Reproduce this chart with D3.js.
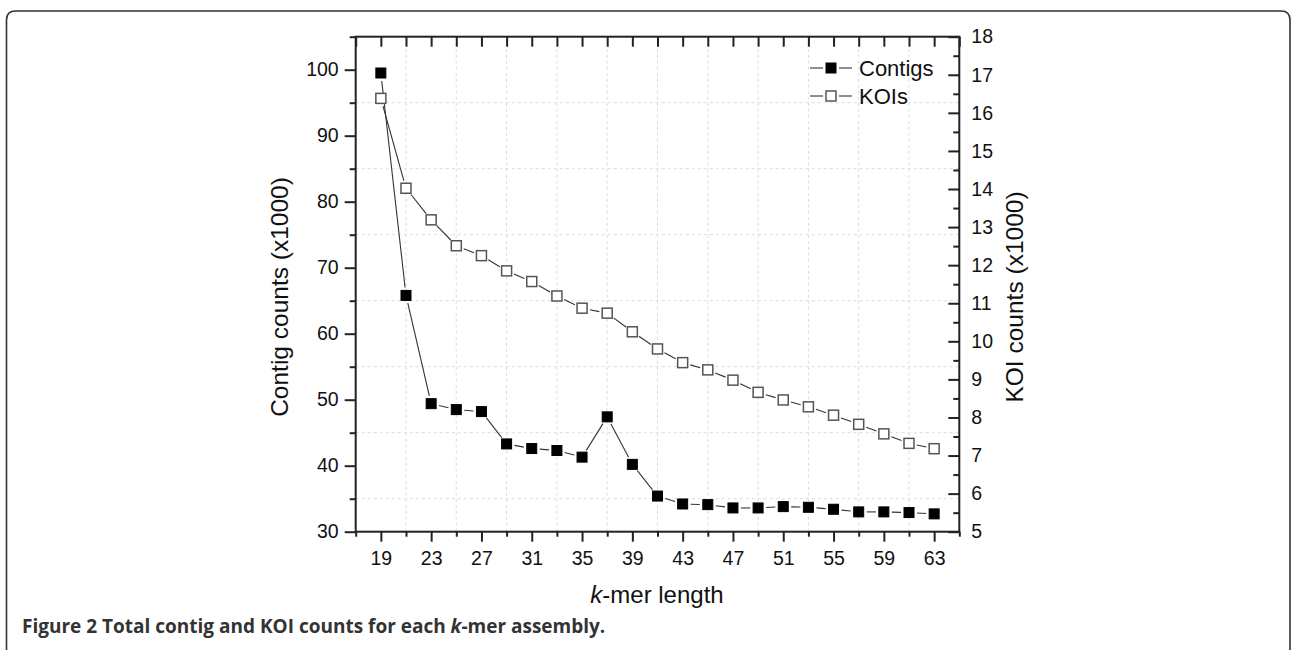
<!DOCTYPE html>
<html>
<head>
<meta charset="utf-8">
<script src="https://cdn.jsdelivr.net/npm/d3@7"></script>
<style>
  html, body { margin: 0; padding: 0; background: #fff; }
  svg { display: block; }
  .tk text { font-family: "Liberation Sans", Arial, sans-serif; font-size: 19.5px; fill: #111; }
  .tk line { stroke: #222; stroke-width: 2; }
  .tk path.domain { display: none; }
</style>
</head>
<body>
<svg id="chart" width="1292" height="650"></svg>
<script>
// ---- data ----
const kmerLengths = [19,21,23,25,27,29,31,33,35,37,39,41,43,45,47,49,51,53,55,57,59,61,63];
const contigCounts = [99.5,65.8,49.4,48.5,48.2,43.3,42.6,42.3,41.3,47.4,40.2,35.4,34.2,34.1,33.6,33.6,33.8,33.7,33.4,33.0,33.0,32.9,32.7];
const koiCounts = [16.38,14.02,13.19,12.51,12.25,11.85,11.57,11.19,10.87,10.74,10.25,9.80,9.44,9.25,8.98,8.66,8.46,8.28,8.06,7.82,7.57,7.32,7.18];
const xMajorTicks = [19,23,27,31,35,39,43,47,51,55,59,63];
const xMinorTicks = [17,21,25,29,33,37,41,45,49,53,57,61,65];
const leftMajorTicks = [30,40,50,60,70,80,90,100];
const leftMinorTicks = [35,45,55,65,75,85,95,105];
const rightMajorTicks = [5,6,7,8,9,10,11,12,13,14,15,16,17,18];
const rightMinorTicks = [5.5,6.5,7.5,8.5,9.5,10.5,11.5,12.5,13.5,14.5,15.5,16.5,17.5];
const seriesNames = ["Contigs", "KOIs"];

// ---- layout ----
const L = 355.7, R = 959.3, T = 36.7, B = 531.7;
const svg = d3.select("#chart");

const x = d3.scaleLinear().domain([17, 65]).range([L, R]);
const yL = d3.scaleLinear().domain([30, 105]).range([B, T]);
const yR = d3.scaleLinear().domain([5, 18]).range([B, T]);

// outer frame (rounded top, open at bottom)
const fx0 = 6.5, fy0 = 11, fx1 = 1290, rr = 9;
svg.append("path")
  .attr("d", `M${fx0},660 L${fx0},${fy0+rr} Q${fx0},${fy0} ${fx0+rr},${fy0} L${fx1-rr},${fy0} Q${fx1},${fy0} ${fx1},${fy0+rr} L${fx1},660`)
  .attr("fill", "none").attr("stroke", "#333").attr("stroke-width", 1.6);

// grid (dashed, at minor positions)
const grid = svg.append("g");
grid.selectAll("line.v").data(xMinorTicks.filter(d => d > 17 && d < 65)).join("line")
  .attr("x1", d => x(d)).attr("x2", d => x(d)).attr("y1", T).attr("y2", B)
  .attr("stroke", "#dcdcdc").attr("stroke-width", 1).attr("stroke-dasharray", "3,3");
grid.selectAll("line.h").data(leftMinorTicks.filter(d => d < 105)).join("line")
  .attr("x1", L).attr("x2", R).attr("y1", d => yL(d)).attr("y2", d => yL(d))
  .attr("stroke", "#dcdcdc").attr("stroke-width", 1).attr("stroke-dasharray", "3,3");

// axes
svg.append("g").attr("class", "tk").attr("transform", `translate(0,${B})`)
  .call(d3.axisBottom(x).tickValues(xMajorTicks).tickSize(10).tickPadding(9).tickSizeOuter(0));
svg.append("g").attr("class", "tk").attr("transform", `translate(0,${B})`)
  .call(d3.axisBottom(x).tickValues(xMinorTicks).tickSize(5).tickFormat("").tickSizeOuter(0));
svg.append("g").attr("class", "tk").attr("transform", `translate(0,${T})`)
  .call(d3.axisTop(x).tickValues(xMajorTicks.concat(xMinorTicks)).tickSize(-10).tickFormat("").tickSizeOuter(0));
svg.append("g").attr("class", "tk").attr("transform", `translate(${L},0)`)
  .call(d3.axisLeft(yL).tickValues(leftMajorTicks).tickSize(11).tickPadding(6).tickSizeOuter(0));
svg.append("g").attr("class", "tk").attr("transform", `translate(${L},0)`)
  .call(d3.axisLeft(yL).tickValues(leftMinorTicks).tickSize(6).tickFormat("").tickSizeOuter(0));
svg.append("g").attr("class", "tk").attr("transform", `translate(${R},0)`)
  .call(d3.axisRight(yR).tickValues(rightMajorTicks).tickSize(-11).tickPadding(12).tickSizeOuter(0));
svg.append("g").attr("class", "tk").attr("transform", `translate(${R},0)`)
  .call(d3.axisRight(yR).tickValues(rightMinorTicks).tickSize(-6).tickFormat("").tickSizeOuter(0));

// plot box
svg.append("rect").attr("x", L).attr("y", T).attr("width", R - L).attr("height", B - T)
  .attr("fill", "none").attr("stroke", "#222").attr("stroke-width", 2);

// gapped connecting lines
function gappedSegments(pts, gap) {
  const segs = [];
  for (let i = 0; i < pts.length - 1; i++) {
    const [x1, y1] = pts[i], [x2, y2] = pts[i + 1];
    const dx = x2 - x1, dy = y2 - y1, d = Math.hypot(dx, dy);
    if (d > 2 * gap) {
      const ux = dx / d, uy = dy / d;
      segs.push([x1 + ux * gap, y1 + uy * gap, x2 - ux * gap, y2 - uy * gap]);
    }
  }
  return segs;
}
const contigPts = kmerLengths.map((k, i) => [x(k), yL(contigCounts[i])]);
const koiPts = kmerLengths.map((k, i) => [x(k), yR(koiCounts[i])]);
const ms = 10;

[contigPts, koiPts].forEach(pts => {
  svg.append("g").selectAll("line").data(gappedSegments(pts, 8)).join("line")
    .attr("x1", d => d[0]).attr("y1", d => d[1]).attr("x2", d => d[2]).attr("y2", d => d[3])
    .attr("stroke", "#333").attr("stroke-width", 1.1);
});
svg.append("g").selectAll("rect").data(koiPts).join("rect")
  .attr("x", d => d[0] - ms / 2).attr("y", d => d[1] - ms / 2).attr("width", ms).attr("height", ms)
  .attr("fill", "#fff").attr("stroke", "#555").attr("stroke-width", 1.5);
svg.append("g").selectAll("rect").data(contigPts).join("rect")
  .attr("x", d => d[0] - ms / 2).attr("y", d => d[1] - ms / 2).attr("width", ms).attr("height", ms)
  .attr("fill", "#000").attr("stroke", "#000").attr("stroke-width", 1);

// legend
const lg = svg.append("g");
const legendY = [68, 96];
seriesNames.forEach((name, i) => {
  const cy = legendY[i], cx = 831;
  lg.append("line").attr("x1", 810).attr("x2", cx - 8).attr("y1", cy).attr("y2", cy).attr("stroke", "#333").attr("stroke-width", 1.1);
  lg.append("line").attr("x1", cx + 8).attr("x2", 852).attr("y1", cy).attr("y2", cy).attr("stroke", "#333").attr("stroke-width", 1.1);
  lg.append("rect").attr("x", cx - ms / 2).attr("y", cy - ms / 2).attr("width", ms).attr("height", ms)
    .attr("fill", i === 0 ? "#000" : "#fff").attr("stroke", i === 0 ? "#000" : "#555").attr("stroke-width", i === 0 ? 1 : 1.5);
  lg.append("text").attr("x", 859).attr("y", cy + 7.5).text(name)
    .attr("font-family", "Liberation Sans, Arial, sans-serif").attr("font-size", 22).attr("fill", "#111");
});

// axis titles
const font = "Liberation Sans, Arial, sans-serif";
svg.append("text").attr("transform", "translate(288,297) rotate(-90)").attr("text-anchor", "middle")
  .attr("font-family", font).attr("font-size", 24.5).attr("fill", "#111").text("Contig counts (x1000)");
svg.append("text").attr("transform", "translate(1023,297) rotate(-90)").attr("text-anchor", "middle")
  .attr("font-family", font).attr("font-size", 24.5).attr("fill", "#111").text("KOI counts (x1000)");
const xt = svg.append("text").attr("x", 657).attr("y", 603).attr("text-anchor", "middle")
  .attr("font-family", font).attr("font-size", 24).attr("fill", "#111");
xt.append("tspan").attr("font-style", "italic").text("k");
xt.append("tspan").text("-mer length");

// caption
const cap = svg.append("text").attr("x", 22).attr("y", 633)
  .attr("font-family", "Open Sans, sans-serif").attr("font-weight", "bold").attr("font-size", 19).attr("fill", "#333");
cap.append("tspan").text("Figure 2 ");
cap.append("tspan").text("Total contig and KOI counts for each ");
cap.append("tspan").attr("font-style", "italic").text("k");
cap.append("tspan").text("-mer assembly.");
</script>
</body>
</html>
